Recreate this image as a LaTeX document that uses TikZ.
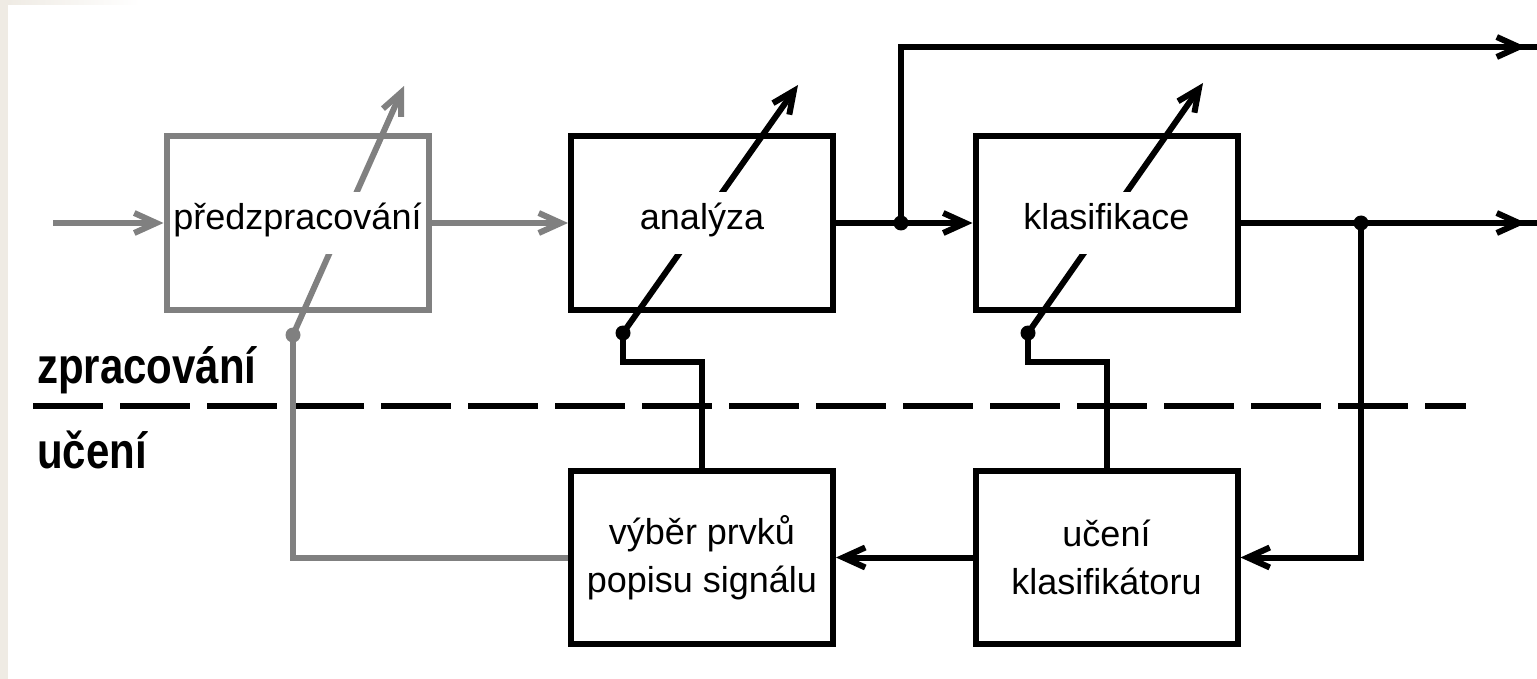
\documentclass[tikz,border=0pt]{standalone}
\usepackage{fontspec}
\setmainfont{Liberation Sans}
\usetikzlibrary{arrows.meta,backgrounds}
\definecolor{grayline}{RGB}{128,128,128}
\definecolor{beige}{RGB}{239,235,228}
\begin{document}
\begin{tikzpicture}[x=1pt,y=-1pt,
  box/.style={draw, line width=6pt, minimum width=262pt, minimum height=173pt, inner sep=0pt},
  gbox/.style={box, draw=grayline},
  lbl/.style={fill=white, font=\fontsize{36}{42}\selectfont, inner xsep=2pt, inner ysep=14pt, text height=24pt, text depth=10pt},
  lbltwo/.style={font=\fontsize{36}{48}\selectfont, align=center, inner sep=0pt},
  side/.style={font=\bfseries\fontsize{42}{44}\selectfont, inner sep=0pt, anchor=base west},
  conn/.style={line width=6pt, line join=miter},
  gconn/.style={conn, draw=grayline},
  arr/.style={-{Straight Barb[length=22pt,width=20pt]}},
  dot/.style={circle, fill, inner sep=0pt, minimum size=15pt},
  gdot/.style={dot, fill=grayline},
  dashline/.style={line width=6.5pt, dash pattern=on 70pt off 17pt}
]
\useasboundingbox (0,0) rectangle (1537,679);

% named points
\coordinate (in)   at (53,223);
\coordinate (d0)   at (293,335);
\coordinate (t0)   at (404,86);
\coordinate (d1)   at (623,333);
\coordinate (t1)   at (798,85);
\coordinate (k1)   at (623,362);
\coordinate (d2)   at (1028,333);
\coordinate (t2)   at (1203,83);
\coordinate (k2)   at (1028,362);
\coordinate (j1)   at (901,223);
\coordinate (j2)   at (1361,223);
\coordinate (a1)   at (1490,47);
\coordinate (out1) at (1526,47);
\coordinate (e1)   at (1537,47);
\coordinate (a2)   at (1490,223);
\coordinate (out2) at (1526,223);
\coordinate (e2)   at (1537,223);
\coordinate (dashA) at (33,406);
\coordinate (dashB) at (1466,406);

\begin{scope}[on background layer]
  \fill[beige] (0,0) rectangle (8,679);
  \shade[left color=beige, right color=white] (8,0) rectangle (140,5);
  \draw[gconn,arr] (d0) -- (t0);
  \draw[conn,arr] (d1) -- (t1);
  \draw[conn,arr] (d2) -- (t2);
\end{scope}

% boxes
\node[gbox] (pred) at (297.5,223) {};
\node[box]  (ana)  at (702,223) {};
\node[box]  (klas) at (1106.5,223) {};
\node[box]  (vyb)  at (702,557.5) {};
\node[box]  (uce)  at (1106.5,557.5) {};

% labels
\node[lbl] (predT) at (pred.center) {předzpracování};
\node[lbl] (anaT)  at (ana.center)  {analýza};
\node[lbl] (klasT) at (klas.center) {klasifikace};
\node[lbltwo] (vybT) at (vyb.center) {výběr prvků\\popisu signálu};
\node[lbltwo] (uceT) at (uce.center) {učení\\klasifikátoru};

\node[side] (zpr) at (37,383) {\scalebox{1}[1.2]{zpracování}};
\node[side] (uc)  at (37,468) {\scalebox{1}[1.2]{učení}};

\draw[dashline] (dashA) -- (dashB);

% connectors
\draw[gconn,arr] (in) -- (pred.west);
\draw[gconn,arr] (pred.east) -- (ana.west);
\draw[conn,arr] (ana.east) -- (j1) -- (klas.west);
\draw[conn] (j1) |- (e1);
\draw[conn,arr] (a1) -- (out1);
\draw[conn] (klas.east) -- (j2) -- (e2);
\draw[conn,arr] (a2) -- (out2);
\draw[conn,arr] (j2) |- (uce.east);
\draw[conn,arr] (uce.west) -- (vyb.east);
\draw[conn] (vyb.north) |- (k1) -- (d1);
\draw[conn] (uce.north) |- (k2) -- (d2);
\draw[gconn] (vyb.west) -| (d0);

% dots
\node[dot]  (j1d) at (j1) {};
\node[dot]  (j2d) at (j2) {};
\node[dot]  (d1d) at (d1) {};
\node[dot]  (d2d) at (d2) {};
\node[gdot] (d0d) at (d0) {};
\end{tikzpicture}
\end{document}
